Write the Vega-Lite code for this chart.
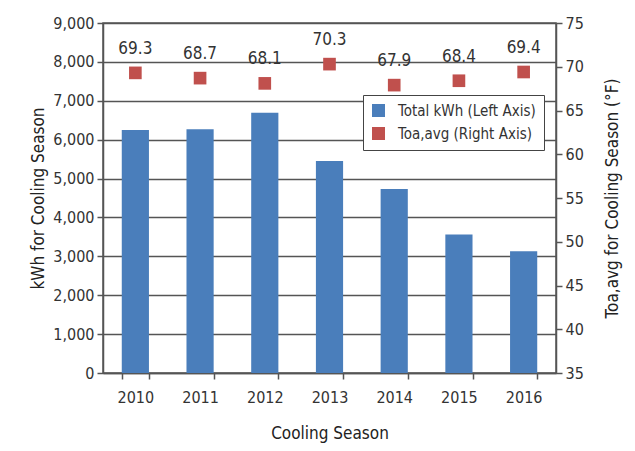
{
  "$schema": "https://vega.github.io/schema/vega-lite/v6.json",
  "width": 453,
  "height": 350,
  "autosize": {"type": "none"},
  "padding": {"left": 103, "top": 23, "right": 79, "bottom": 78},
  "background": "white",
  "config": {
    "font": "DejaVu Sans Condensed, sans-serif",
    "view": {"stroke": "#555", "strokeWidth": 1.5},
    "axis": {
      "labelFont": "DejaVu Sans Condensed, sans-serif",
      "titleFont": "DejaVu Sans Condensed, sans-serif",
      "labelFontSize": 16,
      "titleFontSize": 17,
      "labelColor": "#333",
      "titleColor": "#222",
      "titleFontWeight": "normal",
      "domainColor": "#555",
      "domainWidth": 1.5,
      "tickColor": "#555",
      "tickWidth": 1.5,
      "gridColor": "#555",
      "gridWidth": 1.5,
      "gridOpacity": 1
    },
    "legend": {
      "labelFont": "DejaVu Sans Condensed, sans-serif",
      "labelFontSize": 15,
      "labelColor": "#333"
    }
  },
  "data": {
    "values": [
      {"year": "2010", "kwh": 6250, "temp": 69.3},
      {"year": "2011", "kwh": 6270, "temp": 68.7},
      {"year": "2012", "kwh": 6690, "temp": 68.1},
      {"year": "2013", "kwh": 5450, "temp": 70.3},
      {"year": "2014", "kwh": 4730, "temp": 67.9},
      {"year": "2015", "kwh": 3560, "temp": 68.4},
      {"year": "2016", "kwh": 3130, "temp": 69.4}
    ]
  },
  "encoding": {
    "x": {
      "field": "year",
      "type": "ordinal",
      "scale": {"paddingInner": 0.58, "paddingOuter": 0.29},
      "axis": {
        "title": "Cooling Season",
        "labelAngle": 0,
        "tickBand": "extent",
        "tickSize": 6,
        "labelPadding": 10,
        "titlePadding": 20
      }
    }
  },
  "layer": [
    {
      "mark": {"type": "bar"},
      "encoding": {
        "y": {
          "field": "kwh",
          "type": "quantitative",
          "scale": {"domain": [0, 9000]},
          "axis": {
            "title": "kWh for Cooling Season",
            "values": [0, 1000, 2000, 3000, 4000, 5000, 6000, 7000, 8000, 9000],
            "format": ",d",
            "tickSize": 6,
            "labelPadding": 3,
            "titlePadding": 5,
            "grid": true
          }
        },
        "color": {
          "datum": "Total kWh (Left Axis)",
          "type": "nominal",
          "scale": {
            "domain": ["Total kWh (Left Axis)", "Toa,avg (Right Axis)"],
            "range": ["#4a7ebb", "#c0504d"]
          },
          "legend": {
            "title": null,
            "orient": "none",
            "legendX": 260,
            "legendY": 72,
            "symbolType": "square",
            "symbolSize": 170,
            "symbolStrokeWidth": 0,
            "fillColor": "white",
            "strokeColor": "#444",
            "padding": 8,
            "rowPadding": 7,
            "labelOffset": 12
          }
        }
      }
    },
    {
      "encoding": {
        "y": {
          "field": "temp",
          "type": "quantitative",
          "scale": {"domain": [35, 75]},
          "axis": {
            "orient": "right",
            "title": "Toa,avg for Cooling Season (°F)",
            "titleAngle": 270,
            "values": [35, 40, 45, 50, 55, 60, 65, 70, 75],
            "tickSize": 6,
            "labelPadding": 3,
            "titlePadding": 38,
            "grid": false
          }
        }
      },
      "layer": [
        {
          "mark": {"type": "square", "size": 160, "opacity": 1},
          "encoding": {
            "color": {"datum": "Toa,avg (Right Axis)", "type": "nominal"}
          }
        },
        {
          "mark": {"type": "text", "dy": -24, "fontSize": 17, "color": "#333"},
          "encoding": {
            "text": {"field": "temp", "type": "quantitative", "format": ".1f"}
          }
        }
      ]
    }
  ],
  "resolve": {"scale": {"y": "independent"}}
}
